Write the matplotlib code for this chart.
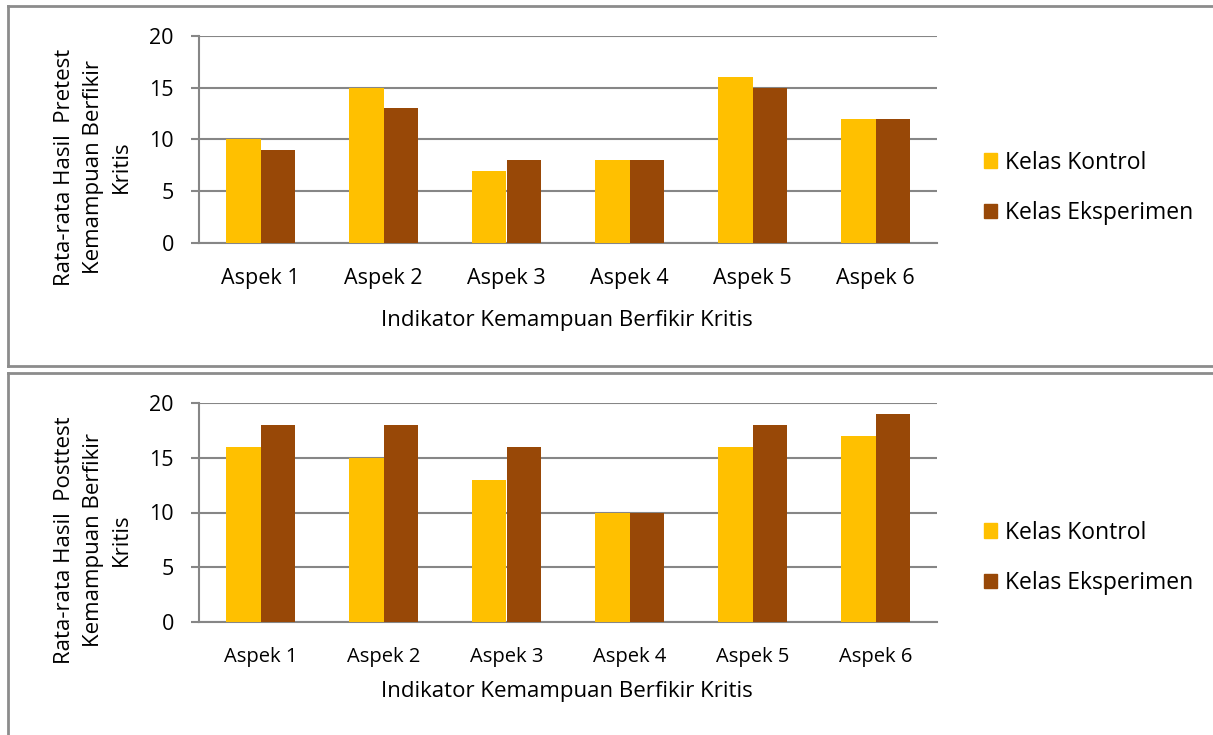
import matplotlib
matplotlib.use('Agg')
import matplotlib.pyplot as plt
import numpy as np
from matplotlib.patches import Rectangle
from matplotlib.lines import Line2D

# data
aspek = ['Aspek 1', 'Aspek 2', 'Aspek 3', 'Aspek 4', 'Aspek 5', 'Aspek 6']
pre_kontrol = [10, 15, 7, 8, 16, 12]
pre_eksperimen = [9, 13, 8, 8, 15, 12]
post_kontrol = [16, 15, 13, 10, 16, 17]
post_eksperimen = [18, 18, 16, 10, 18, 19]

series_names = ['Kelas Kontrol', 'Kelas Eksperimen']
ylabel_pre = 'Rata-rata Hasil  Pretest\nKemampuan Berfikir\nKritis'
ylabel_post = 'Rata-rata Hasil  Posttest\nKemampuan Berfikir\nKritis'
xlabel = 'Indikator Kemampuan Berfikir Kritis'

YELLOW = '#FFC000'
BROWN = '#984807'
GRID = '#868686'
FS = 15.5

plt.rcParams['font.family'] = ['Open Sans', 'DejaVu Sans']

W, H = 1213, 735
fig = plt.figure(figsize=(W / 100, H / 100), dpi=100)

def px(x0, y0, x1, y1):
    # pixel box -> figure fraction rect
    return [x0 / W, 1 - y1 / H, (x1 - x0) / W, (y1 - y0) / H]

def draw_panel(box, kontrol, eksperimen, ylabel, xtick_size, ylab_y, xlab_y, leg_y):
    ax = fig.add_axes(px(*box))
    x = np.arange(len(aspek))
    w = 0.28
    ax.bar(x - w / 2, kontrol, w, color=YELLOW, zorder=3)
    ax.bar(x + w / 2, eksperimen, w, color=BROWN, zorder=3)
    ax.set_xlim(-0.5, len(aspek) - 0.5)
    ax.set_ylim(0, 20)
    ax.set_yticks([0, 5, 10, 15, 20])
    ax.set_xticks(x)
    ax.set_xticklabels(aspek, fontsize=xtick_size)
    ax.tick_params(axis='y', labelsize=FS, length=6, color=GRID, width=1.5, pad=12)
    ax.tick_params(axis='x', length=0, pad=18)
    ax.grid(axis='y', color=GRID, linewidth=1.5, zorder=0)
    for s in ['top', 'right']:
        ax.spines[s].set_visible(False)
    ax.spines['left'].set_color(GRID)
    ax.spines['left'].set_linewidth(1.5)
    ax.spines['bottom'].set_color(GRID)
    ax.spines['bottom'].set_linewidth(1.5)
    fig.text(93 / W, 1 - ylab_y / H, ylabel, rotation=90, ha='center', va='center',
             fontsize=16, linespacing=1.45)
    fig.text(567 / W, 1 - xlab_y / H, xlabel, ha='center', va='center', fontsize=16)
    handles = [Rectangle((0, 0), 1, 1, color=YELLOW), Rectangle((0, 0), 1, 1, color=BROWN)]
    fig.legend(handles, series_names, loc='center left',
               bbox_to_anchor=(963 / W, 1 - leg_y / H), frameon=False, fontsize=16.5,
               handlelength=0.6, handleheight=0.6, handletextpad=0.35, labelspacing=1.15)
    return ax

draw_panel((199, 36, 937, 243), pre_kontrol, pre_eksperimen, ylabel_pre, FS, 167, 320, 188)
draw_panel((199, 403, 937, 622), post_kontrol, post_eksperimen, ylabel_post, 14.5, 540, 692, 558)

# panel borders (left, top, bottom edges like the cropped screenshot)
border = dict(color='#8c8c8c', linewidth=2)
fig.add_artist(Line2D([8 / W, 8 / W], [1 - 6 / H, 1 - 366 / H], transform=fig.transFigure, **border))
fig.add_artist(Line2D([8 / W, 1], [1 - 6 / H, 1 - 6 / H], transform=fig.transFigure, **border))
fig.add_artist(Line2D([8 / W, 1], [1 - 366 / H, 1 - 366 / H], transform=fig.transFigure, **border))
fig.add_artist(Line2D([8 / W, 8 / W], [1 - 373 / H, 0], transform=fig.transFigure, **border))
fig.add_artist(Line2D([8 / W, 1], [1 - 373 / H, 1 - 373 / H], transform=fig.transFigure, **border))

fig.savefig('out.png', dpi=100)
